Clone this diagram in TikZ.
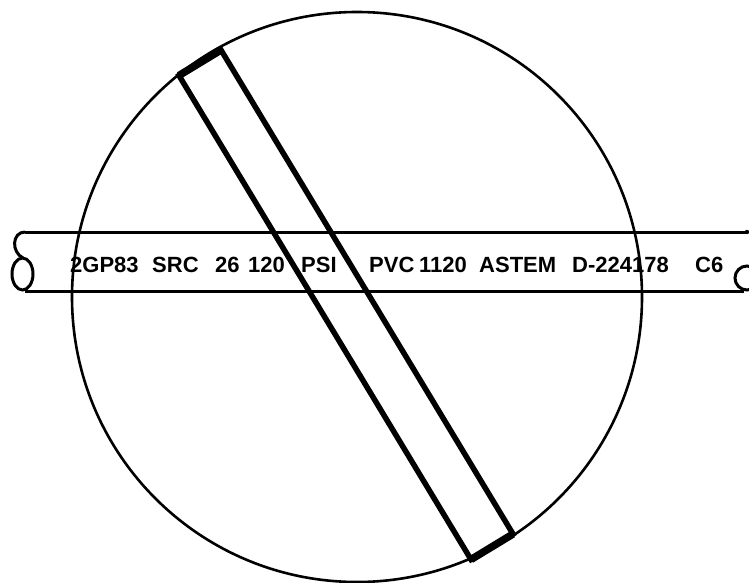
\documentclass[tikz,border=0pt]{standalone}
\usepackage{fontspec}
\setmainfont{Liberation Sans}
\usepackage{tikz}

\begin{document}
\begin{tikzpicture}[x=1pt, y=-1pt, every node/.style={font=\bfseries\fontsize{22}{22}\selectfont, inner sep=0pt, anchor=base west}, pipe/.style={line width=3pt}, slab/.style={line width=5.5pt, line join=miter}]
	\clip (0,0) rectangle (749,583);
	\fill[white] (0,0) rectangle (749,583);
	\draw[line width=2.6pt] (357,297) circle[radius=285];
	\draw[pipe] (25,232) -- (748,232);
	\draw[pipe] (25,291) -- (744,291);
	\draw[pipe] (25,232) .. controls (12,232) and (11,252) .. (23,258);
	\draw[pipe] (22.5,274) ellipse[x radius=10.5, y radius=16];
	\draw[pipe] (747,278) ellipse[x radius=12, y radius=12];
	\fill (747,232) circle[radius=2.2];
	\node (gp) at (70,272) {2GP83};
	\node (src) at (152,272) {SRC};
	\node (p26) at (215,272) {26};
	\node (p120) at (248,272) {120};
	\node (psi) at (301,272) {PSI};
	\node (pvc) at (369,272) {PVC};
	\node (p1120) at (419,272) {1120};
	\node (astem) at (479,272) {ASTEM};
	\node (dnum) at (572,272) {D-224178};
	\node (c6) at (695,272) {C6};
	\draw[slab] (179,75.5) -- (221,50) -- (513,534) -- (471,559.5) -- cycle;
	\draw[line width=7.5pt] (179,75.5) -- (221,50);
	\draw[line width=7.5pt] (513,534) -- (471,559.5);
\end{tikzpicture}
\end{document}
